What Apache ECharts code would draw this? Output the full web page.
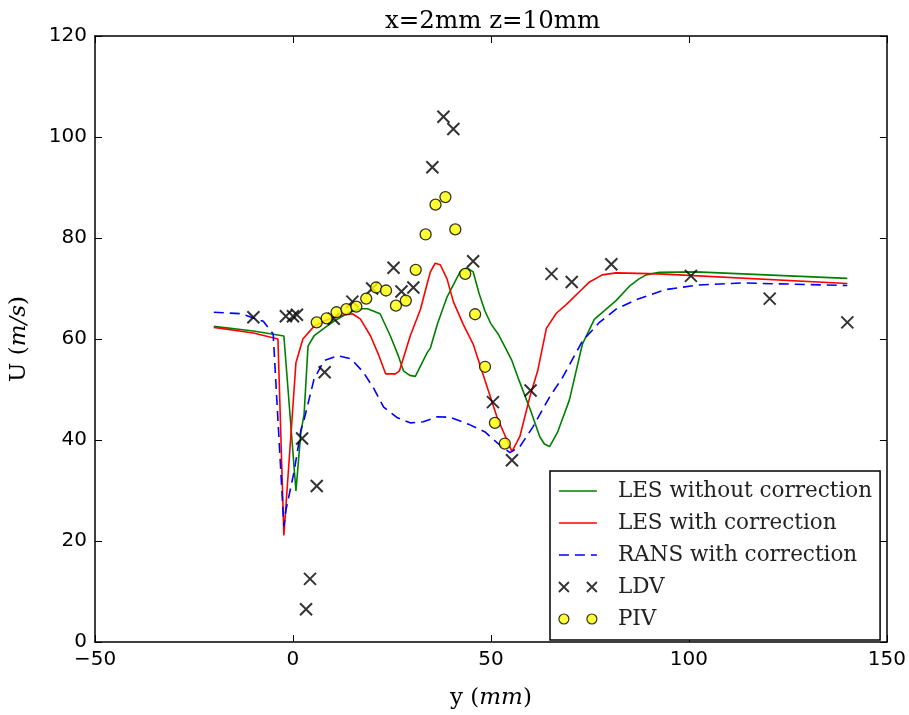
<!DOCTYPE html>
<html>
<head>
<meta charset="utf-8">
<script src="https://cdn.jsdelivr.net/npm/echarts@6/dist/echarts.min.js"></script>
<style>
html,body{margin:0;padding:0;background:#fff;}
#chart{width:909px;height:715px;}
</style>
</head>
<body>
<div id="chart"></div>
<script>
// ---- Data ----
var lesNoCorrX = [-20, -10, -2.3, 0.75, 2.0, 2.8, 3.8, 5.3, 7.8, 10.3, 14, 17, 18.8, 22, 24.6, 26.6, 27.9, 29.5, 30.9, 33.9, 34.7, 36.5, 38.9, 42.2, 44, 45.5, 47, 48.5, 50, 51.8, 53.5, 55.3, 57, 59, 60, 62.3, 63.5, 64.8, 66.8, 69.8, 73.1, 76.1, 78.5, 81.6, 84.9, 87.4, 89.2, 92.5, 101.8, 140];
var lesNoCorrY = [62.5, 61.6, 60.6, 29.9, 41.6, 45, 58.6, 60.6, 62.1, 63.5, 65.2, 66, 66, 65, 60.6, 56.7, 53.7, 52.8, 52.6, 57.3, 58.2, 63, 68.3, 73.3, 74.1, 73.3, 69, 65.5, 63, 61, 58.5, 55.7, 52, 47.9, 45.9, 40.7, 39.2, 38.7, 41.5, 47.9, 59, 63.9, 65.5, 67.6, 70.4, 71.9, 72.7, 73.2, 73.3, 72];

var lesCorrX = [-20, -10, -3.8, -2.3, 0.75, 2.5, 5.3, 8, 11, 15, 17, 19.6, 21.7, 23.4, 25.9, 26.9, 29.6, 32.2, 33.7, 34.7, 35.9, 37.2, 38.9, 40.5, 43, 45.5, 48.5, 51.5, 55.3, 57.3, 59.8, 61.8, 64, 66.5, 69, 72.4, 74.9, 78.1, 81.6, 92.5, 140];
var lesCorrY = [62.3, 61.2, 60, 21.1, 55.3, 60, 62.5, 63.6, 64.5, 65, 64, 60.6, 56.7, 53.1, 53.1, 53.7, 60.6, 65.9, 70.4, 73.3, 75, 74.7, 71.9, 67.4, 62.9, 59, 51.8, 44.6, 37.7, 40.7, 48.5, 53.7, 62.1, 65.1, 66.8, 69.4, 71.3, 72.7, 73.1, 72.9, 71];

var ransCorrX = [-20, -13, -7.5, -5, -2.3, -1.8, 0.3, 2, 2.8, 5.3, 7.8, 11.3, 14.6, 17.8, 20.4, 22.9, 26.4, 29.6, 32.9, 36.4, 39.7, 44.7, 48.5, 51.5, 54.8, 57.3, 60.6, 64.8, 68.1, 73.1, 77.4, 81.6, 86.7, 94.2, 102.5, 113.3, 140];
var ransCorrY = [65.3, 65, 63.5, 61, 22.9, 26, 33.8, 42, 44, 52, 55.7, 56.7, 56.1, 53.4, 50.2, 46.5, 44.4, 43.4, 43.6, 44.6, 44.5, 43, 41.6, 39.5, 37.5, 38.7, 42.6, 48.5, 52.4, 59.6, 63.3, 65.9, 67.8, 69.8, 70.7, 71.1, 70.6];

var ldvX = [-10, -1.8, 0, 1, 2.3, 3.3, 4.3, 6, 8, 10.3, 15, 20, 25.4, 27.4, 30.4, 35.2, 38, 40.5, 45.5, 50.5, 55.3, 60, 65.3, 70.4, 80.4, 100.5, 120.4, 140];
var ldvY = [64.3, 64.5, 64.5, 64.8, 40.3, 6.5, 12.5, 30.9, 53.4, 64, 67.4, 70, 74.1, 69.4, 70.2, 94, 104, 101.6, 75.4, 47.5, 36, 49.8, 72.9, 71.3, 74.8, 72.5, 68, 63.3];

var pivX = [6, 8.5, 11, 13.5, 16, 18.5, 21, 23.5, 26, 28.5, 31, 33.5, 36, 38.5, 41, 43.5, 46, 48.5, 51, 53.5];
var pivY = [63.3, 64.1, 65.3, 65.9, 66.4, 68.0, 70.2, 69.6, 66.6, 67.6, 73.7, 80.7, 86.6, 88.1, 81.7, 72.9, 64.9, 54.5, 43.4, 39.3];

var seriesNames = ['LES without correction', 'LES with correction', 'RANS with correction', 'LDV', 'PIV'];
var lineColors = ['#008000', '#ff0000', '#0000ff'];
var xTicks = {min: -50, max: 150, interval: 50};
var yTicks = {min: 0, max: 120, interval: 20};

function zip(xs, ys) { return xs.map(function (x, i) { return [x, ys[i]]; }); }

var crossPath = 'path://M0 0L10 10M10 0L0 10';
var legendCross = 'path://M0 0L10 10M10 0L0 10M28 0L38 10M38 0L28 10';
var legendCircles = 'path://M10 5A5 5 0 1 1 0 5A5 5 0 1 1 10 5ZM38 5A5 5 0 1 1 28 5A5 5 0 1 1 38 5Z';

var serif = 'DejaVu Serif';
var sans = 'DejaVu Sans';

function minusFmt(v) { return String(v).replace('-', '\u2212'); }

var hiddenSym = {color: 'rgba(0,0,0,0)', borderColor: 'rgba(0,0,0,0)', borderWidth: 0, opacity: 0};

var chart = echarts.init(document.getElementById('chart'), null, {renderer: 'canvas'});
var option = {
  animation: false,
  backgroundColor: '#fff',
  title: {
    text: 'x=2mm z=10mm',
    left: 380, top: 4,
    textStyle: {fontFamily: serif, fontSize: 24.5, fontWeight: 'normal', color: '#000'}
  },
  grid: {left: 93, right: 20, top: 36, bottom: 65, containLabel: false},
  xAxis: [{
    type: 'value', min: xTicks.min, max: xTicks.max, interval: xTicks.interval,
    name: 'y ({i|mm})', nameLocation: 'middle', nameGap: 45,
    nameTextStyle: {fontFamily: serif, fontSize: 23, color: '#000',
      rich: {i: {fontFamily: serif, fontStyle: 'italic', fontSize: 23, color: '#000'}}},
    axisLine: {show: true, onZero: false, lineStyle: {color: '#000', width: 1.5}},
    axisTick: {show: true, inside: true, length: 7, lineStyle: {color: '#000', width: 1}},
    axisLabel: {fontFamily: sans, fontSize: 20, color: '#000', margin: 8, formatter: minusFmt},
    splitLine: {show: false}
  }, {
    type: 'value', position: 'top', min: xTicks.min, max: xTicks.max, interval: xTicks.interval,
    axisLine: {show: true, onZero: false, lineStyle: {color: '#000', width: 1.5}},
    axisTick: {show: true, inside: true, length: 7, lineStyle: {color: '#000', width: 1}},
    axisLabel: {show: false}, splitLine: {show: false}
  }],
  yAxis: [{
    type: 'value', min: yTicks.min, max: yTicks.max, interval: yTicks.interval,
    name: 'U ({i|m/s})', nameLocation: 'middle', nameGap: 64, nameRotate: 90,
    nameTextStyle: {fontFamily: serif, fontSize: 23, color: '#000',
      rich: {i: {fontFamily: serif, fontStyle: 'italic', fontSize: 23, color: '#000'}}},
    axisLine: {show: true, onZero: false, lineStyle: {color: '#000', width: 1.5}},
    axisTick: {show: true, inside: true, length: 7, lineStyle: {color: '#000', width: 1}},
    axisLabel: {fontFamily: sans, fontSize: 20, color: '#000', margin: 8},
    splitLine: {show: false}
  }, {
    type: 'value', position: 'right', min: yTicks.min, max: yTicks.max, interval: yTicks.interval,
    axisLine: {show: true, onZero: false, lineStyle: {color: '#000', width: 1.5}},
    axisTick: {show: true, inside: true, length: 7, lineStyle: {color: '#000', width: 1}},
    axisLabel: {show: false}, splitLine: {show: false}
  }],
  legend: {
    orient: 'vertical', left: 550, top: 471,
    padding: [9, 8, 10, 8],
    itemGap: 10, itemWidth: 38, itemHeight: 10,
    borderColor: '#000', borderWidth: 1.5, borderRadius: 0, backgroundColor: '#fff',
    textStyle: {fontFamily: serif, fontSize: 21.5, color: '#222', lineHeight: 20, padding: [0, 0, 0, 16]},
    data: [
      {name: seriesNames[0], itemStyle: hiddenSym, lineStyle: {color: lineColors[0], width: 1.6, type: 'solid'}},
      {name: seriesNames[1], itemStyle: hiddenSym, lineStyle: {color: lineColors[1], width: 1.6, type: 'solid'}},
      {name: seriesNames[2], itemStyle: hiddenSym, lineStyle: {color: lineColors[2], width: 1.6, type: [10, 6]}},
      {name: seriesNames[3], icon: legendCross,
        itemStyle: {color: 'rgba(0,0,0,0)', borderColor: '#000', borderWidth: 1.8}},
      {name: seriesNames[4], icon: legendCircles,
        itemStyle: {color: '#ffff00', borderColor: '#000', borderWidth: 1.2}}
    ]
  },
  series: [{
    name: seriesNames[0], type: 'line', data: zip(lesNoCorrX, lesNoCorrY),
    showSymbol: false, symbol: 'none', z: 2,
    lineStyle: {color: lineColors[0], width: 1.6}, itemStyle: {color: lineColors[0]}
  }, {
    name: seriesNames[1], type: 'line', data: zip(lesCorrX, lesCorrY),
    showSymbol: false, symbol: 'none', z: 3,
    lineStyle: {color: lineColors[1], width: 1.6}, itemStyle: {color: lineColors[1]}
  }, {
    name: seriesNames[2], type: 'line', data: zip(ransCorrX, ransCorrY),
    showSymbol: false, symbol: 'none', z: 4,
    lineStyle: {color: lineColors[2], width: 1.6, type: [10, 6]}, itemStyle: {color: lineColors[2]}
  }, {
    name: seriesNames[3], type: 'scatter', data: zip(ldvX, ldvY),
    symbol: crossPath, symbolSize: 12, z: 5,
    itemStyle: {color: 'rgba(0,0,0,0)', borderColor: '#000', borderWidth: 2}
  }, {
    name: seriesNames[4], type: 'scatter', data: zip(pivX, pivY),
    symbol: 'circle', symbolSize: 11, z: 6,
    itemStyle: {color: '#ffff00', borderColor: '#000', borderWidth: 1.3}
  }]
};
chart.setOption(option);
</script>
</body>
</html>
